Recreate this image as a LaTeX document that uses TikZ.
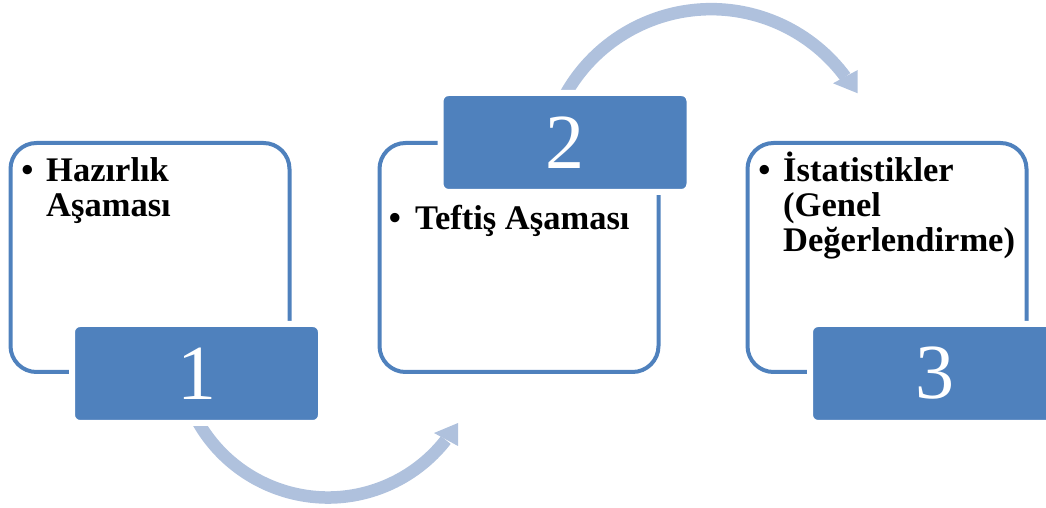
\documentclass[tikz,border=0pt]{standalone}
\usepackage{fontspec}
\setmainfont{Liberation Serif}
\definecolor{boxblue}{HTML}{4F81BD}
\definecolor{arrowblue}{HTML}{AFC1DD}
\tikzset{
  outlinebox/.style={draw=boxblue, line width=4pt, rounded corners=26pt, inner sep=0pt,
    minimum width=279pt, minimum height=229pt},
  numbox/.style={fill=boxblue, draw=white, line width=6pt, rounded corners=8pt,
    minimum width=249pt, minimum height=99pt, inner sep=0pt, text=white,
    font=\fontsize{78}{80}\selectfont},
  steptext/.style={anchor=base west, align=left, inner sep=0pt,
    font=\fontsize{34.5}{35}\selectfont\bfseries},
  bulletmark/.style={anchor=base, inner sep=0pt,
    font=\fontsize{34.5}{35}\selectfont\bfseries},
  flowshaft/.style={draw=arrowblue, line width=12.5pt},
  flowhead/.style={fill=arrowblue},
}
\begin{document}
\begin{tikzpicture}[x=1pt,y=1pt]
\useasboundingbox (0,0) rectangle (1046,508);
\clip (0,0) rectangle (1046,508);
% outline boxes
\node[outlinebox] (o1) at (150,250.5) {};
\node[outlinebox] (o2) at (519,250.5) {};
\node[outlinebox] (o3) at (887,250.5) {};
% curved arrows
\coordinate (c1) at (328,160);
\coordinate (c2) at (711.1,331.8);
\draw[flowshaft] (c1) ++(203:149.5) arc[start angle=203, end angle=322, radius=149.5];
\coordinate (h1tip) at (458,85);
\coordinate (h1a) at (434,75);
\coordinate (h1b) at (458,62);
\fill[flowhead] (h1tip) -- (h1a) -- (h1b) -- cycle;
\draw[flowshaft] (c2) ++(155:167) arc[start angle=155, end angle=36.5, radius=167];
\coordinate (h2tip) at (857.7,414.7);
\coordinate (h2a) at (857.7,438);
\coordinate (h2b) at (833,424.7);
\fill[flowhead] (h2tip) -- (h2a) -- (h2b) -- cycle;
% number boxes
\node[numbox] (n1) at (196.5,134.5) {1};
\node[numbox] (n2) at (565,365.5) {2};
\node[numbox] (n3) at (934.5,134.5) {3};
% texts (base anchor = baseline of the last line)
\node[bulletmark] (b1) at (27.5,326) {•};
\node[steptext] (t1) at (46,291) {Hazırlık\\Aşaması};
\node[bulletmark] (b2) at (395,278) {•};
\node[steptext] (t2) at (415,278) {Teftiş Aşaması};
\node[bulletmark] (b3) at (764.5,326) {•};
\node[steptext] (t3) at (783,256) {İstatistikler\\(Genel\\Değerlendirme)};
\end{tikzpicture}
\end{document}
